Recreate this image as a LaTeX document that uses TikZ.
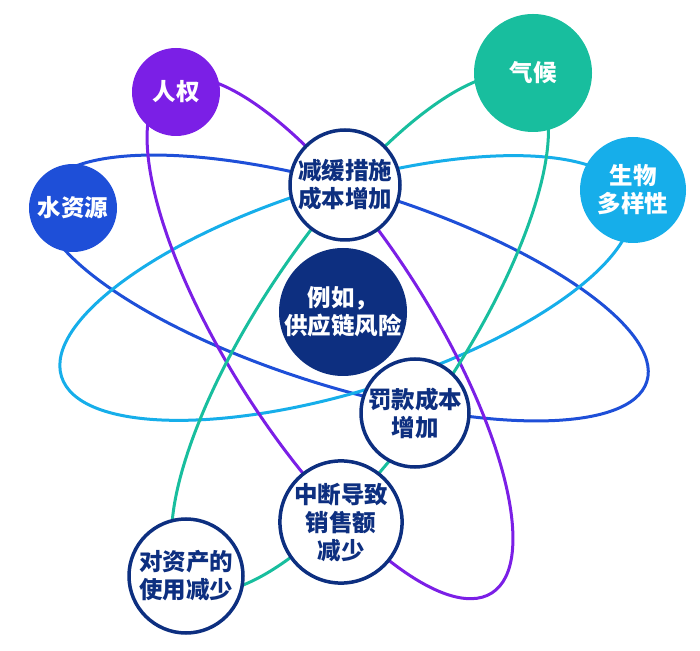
\documentclass[tikz,border=0pt]{standalone}
\usepackage{fontspec}
\newfontfamily\cjk{Noto Sans CJK SC}
\usepackage{tikz}

\definecolor{navy}{HTML}{0D2F80}
\definecolor{violet}{HTML}{7B1FE6}
\definecolor{teal}{HTML}{18BE9E}
\definecolor{royal}{HTML}{1E4FD8}
\definecolor{sky}{HTML}{16AEEA}

\tikzset{
  orbit/.style={line width=3pt},
  topic/.style={circle, inner sep=0pt, text=white, align=center,
    font=\cjk\bfseries\fontsize{23.5}{28}\selectfont},
  effect/.style={circle, inner sep=0pt, draw=navy, line width=3.5pt, fill=white,
    text=navy, align=center, font=\cjk\bfseries\fontsize{23.5}{28}\selectfont},
}

\begin{document}
\begin{tikzpicture}[x=1pt, y=1pt]
    \useasboundingbox (0,0) rectangle (700,650);
    % orbits
    \draw[orbit, royal, rotate around={-17.2:(345,362)}] (345,362) ellipse[x radius=316pt, y radius=99pt];
    \draw[orbit, sky, rotate around={17.3:(346,362)}] (346,362) ellipse[x radius=298pt, y radius=103pt];
    \draw[orbit, violet, rotate around={-57.6:(330,312)}] (330,312) ellipse[x radius=302pt, y radius=101pt];
    \draw[orbit, teal, rotate around={56.2:(360,317)}] (360,317) ellipse[x radius=304pt, y radius=100pt];
    % outer topics
    \node[topic, fill=violet, minimum size=88pt] (rights) at (176,558) {人权};
    \node[topic, fill=teal, minimum size=118pt] (climate) at (533,577) {气候};
    \node[topic, fill=royal, minimum size=88pt] (water) at (73,442) {水资源};
    \node[topic, fill=sky, minimum size=106pt] (biodiv) at (633,460) {生物\\多样性};
    % centre
    \node[topic, fill=navy, minimum size=128pt] (risk) at (343,338) {例如，\\供应链风险};
    % effects
    \node[effect, minimum size=110pt] (mitigation) at (345,465) {减缓措施\\成本增加};
    \node[effect, minimum size=108pt] (fines) at (415,237) {罚款成本\\增加};
    \node[effect, minimum size=118pt] (sales) at (341,128) {中断导致\\销售额\\减少};
    \node[effect, minimum size=114pt] (assets) at (186,74) {对资产的\\使用减少};
\end{tikzpicture}
\end{document}
